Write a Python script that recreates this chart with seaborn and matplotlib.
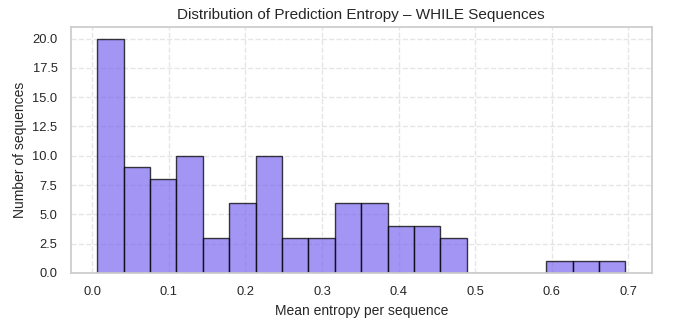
import numpy as np
import pandas as pd
import seaborn as sns
import matplotlib.pyplot as plt

# histogram: 20 bins
bin_edges = np.linspace(0.0065, 0.696, 21)
counts = [20, 9, 8, 10, 3, 6, 10, 3, 3, 6, 6, 4, 4, 3, 0, 0, 0, 1, 1, 1]
bin_centers = (bin_edges[:-1] + bin_edges[1:]) / 2

df = pd.DataFrame({'entropy': bin_centers, 'count': counts})

sns.set_theme(style='whitegrid')
plt.rcParams['font.family'] = ['Liberation Sans', 'DejaVu Sans']

fig, ax = plt.subplots(figsize=(6.74, 3.21), dpi=100)
sns.histplot(data=df, x='entropy', weights='count', bins=list(bin_edges),
             color='mediumslateblue', alpha=0.7, edgecolor=(0, 0, 0, 0.75), linewidth=1, ax=ax)
ax.grid(True, linestyle='--', alpha=0.5)
ax.set_title('Distribution of Prediction Entropy – WHILE Sequences', fontsize=11)
ax.set_xlabel('Mean entropy per sequence', fontsize=10)
ax.set_ylabel('Number of sequences', fontsize=10)
ax.tick_params(labelsize=9.3)
ax.set_yticks(np.arange(0, 20.1, 2.5))
ax.set_ylim(0, 21)
for s in ax.spines.values():
    s.set_color('#cccccc')
plt.subplots_adjust(left=0.105, right=0.967, bottom=0.15, top=0.916)
plt.savefig('out.png', dpi=100)
